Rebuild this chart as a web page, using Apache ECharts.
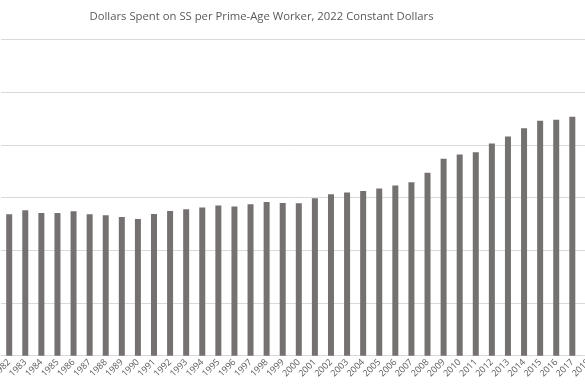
<!DOCTYPE html>
<html>
<head>
<meta charset="utf-8">
<script src="https://cdn.jsdelivr.net/npm/echarts@6/dist/echarts.min.js"></script>
<style>html,body{margin:0;padding:0;background:#fff;}#c{width:585px;height:390px;}</style>
</head>
<body>
<div id="c"></div>
<script>
var titleText = 'Dollars Spent on SS per Prime-Age Worker, 2022 Constant Dollars';
var years = ['1982','1983','1984','1985','1986','1987','1988','1989','1990','1991','1992','1993','1994','1995','1996','1997','1998','1999','2000','2001','2002','2003','2004','2005','2006','2007','2008','2009','2010','2011','2012','2013','2014','2015','2016','2017','2018'];
var dollars = [5366,5518,5416,5416,5480,5366,5328,5264,5188,5378,5492,5556,5617,5693,5655,5746,5833,5795,5784,5973,6125,6186,6251,6338,6452,6581,6934,7465,7628,7719,8045,8311,8630,8907,8945,9059,9200];
var yTicks = [0,2000,4000,6000,8000,10000,12000];

var chart = echarts.init(document.getElementById('c'), null, {renderer:'canvas'});
chart.setOption({
  animation:false,
  backgroundColor:'#ffffff',
  graphic:[{type:'text', x:261.5, y:17, style:{text:titleText, fill:'#595959', font:'11.3px "Open Sans"', textAlign:'center', textVerticalAlign:'middle'}}],
  grid:{left:1.15, top:39.3, width:595.3, bottom:34.3, containLabel:false, outerBoundsMode:'none'},
  xAxis:{type:'category', data:years, boundaryGap:true,
    axisLine:{show:true, lineStyle:{color:'#d9d9d9', width:1}},
    axisTick:{show:false},
    axisLabel:{interval:0, rotate:45, margin:5, fontSize:9, color:'#595959', fontFamily:'Open Sans', hideOverlap:false}},
  yAxis:{type:'value', min:yTicks[0], max:yTicks[yTicks.length-1], interval:2000,
    axisLabel:{show:false}, axisLine:{show:false}, axisTick:{show:false},
    splitLine:{lineStyle:{color:'#d9d9d9', width:1}}},
  series:[{type:'bar', data:dollars, barWidth:6, itemStyle:{color:'#767171'}}]
});
</script>
</body>
</html>
